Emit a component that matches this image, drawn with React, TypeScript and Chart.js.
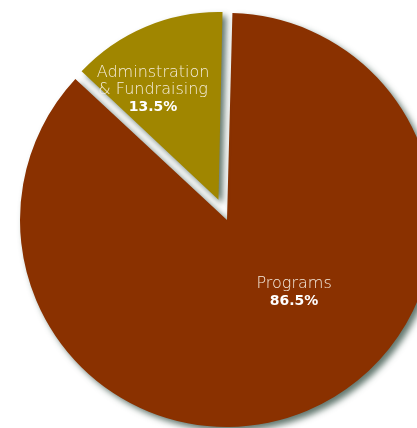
import React, { useEffect, useRef } from "react";
import { Chart, registerables } from "chart.js";

Chart.register(...registerables);

const categories = ["Programs", "Adminstration & Fundraising"];
const labelLines = [["Programs"], ["Adminstration", "& Fundraising"]];
const values = [86.5, 13.5];
const valueLabels = ["86.5%", "13.5%"];
const colors = ["#8a3100", "#a08600"];
const offsets = [0, 88];

const shadowPlugin = {
  id: "pieShadow",
  beforeDatasetsDraw(chart: any) {
    const ctx = chart.ctx;
    ctx.save();
    ctx.shadowColor = "rgba(70, 95, 85, 0.85)";
    ctx.shadowBlur = 6;
    ctx.shadowOffsetX = 4;
    ctx.shadowOffsetY = 4;
  },
  afterDatasetsDraw(chart: any) {
    chart.ctx.restore();
  },
};

const sliceRadiusPlugin = {
  id: "sliceRadius",
  afterDatasetsUpdate(chart: any) {
    const meta = chart.getDatasetMeta(0);
    const main = meta.data[0];
    const small = meta.data[1];
    if (main && small) small.outerRadius = main.outerRadius * 0.88;
  },
};

const labelPlugin = {
  id: "sliceLabels",
  afterDraw(chart: any) {
    const ctx = chart.ctx;
    const meta = chart.getDatasetMeta(0);
    const main = meta.data[0];
    const cx = main.x;
    const cy = main.y;
    const R = main.outerRadius;
    const pos = [
      { x: cx + R * 0.324, y: cy + R * 0.31 },
      { x: cx - R * 0.357, y: cy - R * 0.71 },
    ];
    ctx.save();
    ctx.textAlign = "center";
    ctx.textBaseline = "middle";
    const lh = 17;
    for (let i = 0; i < values.length; i++) {
      const lines = labelLines[i];
      let y = pos[i].y;
      ctx.fillStyle = "rgba(250, 243, 232, 0.95)";
      ctx.font = "300 16px 'DejaVu Sans'";
      for (const l of lines) {
        ctx.fillText(l, pos[i].x, y);
        y += lh;
      }
      ctx.fillStyle = "#ffffff";
      ctx.font = "bold 14px 'DejaVu Sans'";
      ctx.fillText(valueLabels[i], pos[i].x, y);
    }
    ctx.restore();
  },
};

export default function App() {
  const ref = useRef<HTMLCanvasElement | null>(null);
  useEffect(() => {
    if (!ref.current) return;
    const chart = new Chart(ref.current, {
      type: "pie",
      data: {
        labels: categories,
        datasets: [
          {
            data: values,
            backgroundColor: colors,
            borderWidth: 0,
            offset: offsets,
            hoverOffset: 0,
          },
        ],
      },
      options: {
        animation: false,
        responsive: false,
        devicePixelRatio: 1,
        rotation: 1.5,
        events: [],
        layout: { padding: 0 },
        plugins: {
          legend: { display: false },
          tooltip: { enabled: false },
        },
      },
      plugins: [shadowPlugin, sliceRadiusPlugin, labelPlugin],
    });
    return () => chart.destroy();
  }, []);
  return (
    <div
      style={{
        position: "fixed",
        left: 0,
        top: 0,
        width: 417,
        height: 428,
        overflow: "hidden",
        background: "#ffffff",
      }}
    >
      <canvas
        ref={ref}
        width={502}
        height={502}
        style={{ position: "absolute", left: -24, top: -31, width: 502, height: 502 }}
      />
    </div>
  );
}
